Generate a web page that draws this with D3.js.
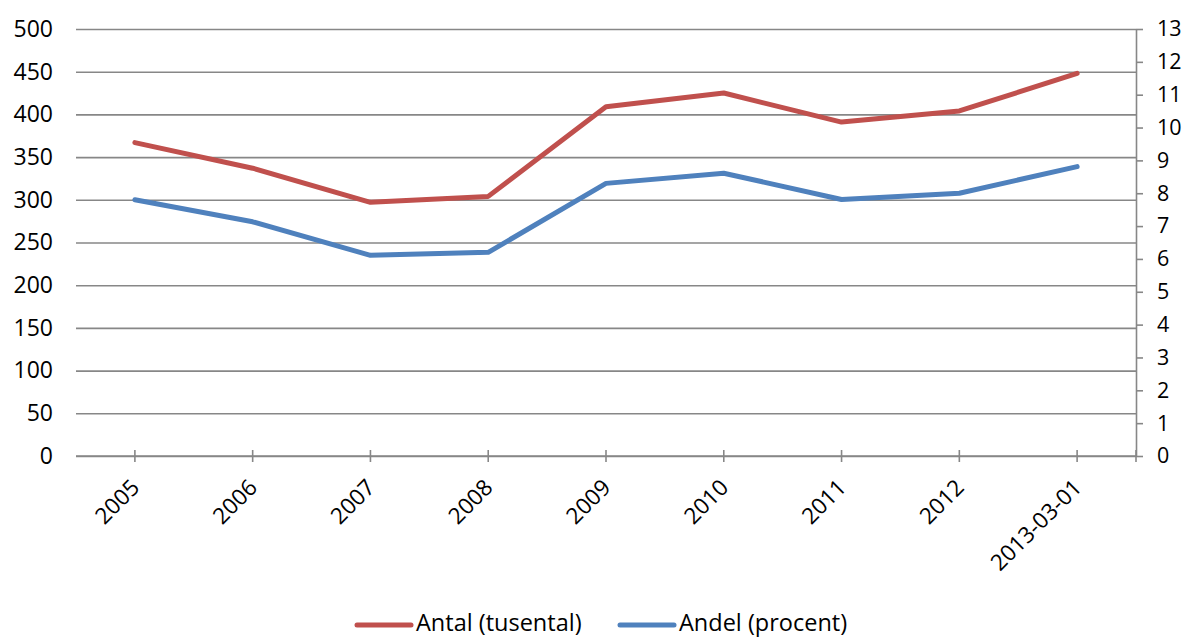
<!DOCTYPE html>
<html>
<head>
<meta charset="utf-8">
<script src="https://cdn.jsdelivr.net/npm/d3@7"></script>
<style>
  html, body { margin: 0; padding: 0; background: #fff; }
  svg { display: block; }
  text { font-family: "Open Sans", "Noto Sans", sans-serif; fill: #000; }
</style>
</head>
<body>
<svg id="chart" width="1188" height="637"></svg>
<script>
const categories = ["2005", "2006", "2007", "2008", "2009", "2010", "2011", "2012", "2013-03-01"];
const antal = [367, 337, 297, 304, 409, 425, 391, 404, 448];
const andel = [7.80, 7.13, 6.11, 6.20, 8.30, 8.61, 7.81, 8.00, 8.81];
const leftTicks = [0, 50, 100, 150, 200, 250, 300, 350, 400, 450, 500];
const rightTicks = [0, 1, 2, 3, 4, 5, 6, 7, 8, 9, 10, 11, 12, 13];
const seriesNames = ["Antal (tusental)", "Andel (procent)"];

const red = "#C0504D", blue = "#4F81BD", grid = "#878787";
const L = 76, R = 1136, T = 29, B = 456;

const svg = d3.select("#chart");
const x = d3.scaleBand().domain(categories).range([L, R]).paddingInner(0).paddingOuter(0);
const cx = d => x(d) + x.bandwidth() / 2;
const yL = d3.scaleLinear().domain([0, 500]).range([B, T]);
const yR = d3.scaleLinear().domain([0, 13]).range([B, T]);

// gridlines + left labels
const gl = svg.append("g").attr("transform", `translate(${L},0)`)
  .call(d3.axisLeft(yL).tickValues(leftTicks).tickSize(-(R - L)).tickPadding(23));
gl.select(".domain").remove();
gl.selectAll(".tick line").attr("stroke", grid).attr("stroke-width", 1.6);
gl.selectAll(".tick text").attr("font-size", 23).attr("font-family", "Open Sans").attr("fill", "#000");

// right axis
const gr = svg.append("g").attr("transform", `translate(${R},0)`)
  .call(d3.axisRight(yR).tickValues(rightTicks).tickSize(7).tickPadding(14));
gr.select(".domain").attr("stroke", grid).attr("stroke-width", 1.6).attr("d", `M0.5,${T}V${B}`);
gr.selectAll(".tick line").attr("stroke", grid).attr("stroke-width", 1.6);
gr.selectAll(".tick text").attr("font-size", 21.5).attr("font-family", "Open Sans").attr("fill", "#000");

// x axis
const gx = svg.append("g").attr("transform", `translate(0,${B})`);
gx.append("line").attr("x1", L).attr("x2", R).attr("y1", 0).attr("y2", 0)
  .attr("stroke", grid).attr("stroke-width", 1.6);
const xTickPos = categories.map(cx).concat([R]);
gx.selectAll("line.xt").data(xTickPos).join("line").attr("class", "xt")
  .attr("x1", d => d).attr("x2", d => d).attr("y1", -6).attr("y2", 6)
  .attr("stroke", grid).attr("stroke-width", 1.6);
gx.selectAll("text.xl").data(categories).join("text").attr("class", "xl")
  .attr("text-anchor", "end").attr("font-size", 22.5)
  .attr("transform", d => `translate(${cx(d) + 6},${33}) rotate(-45)`)
  .text(d => d);

// lines
const lineL = d3.line().x((d, i) => cx(categories[i])).y(d => yL(d));
const lineR = d3.line().x((d, i) => cx(categories[i])).y(d => yR(d));
svg.append("path").datum(antal).attr("d", lineL).attr("fill", "none")
  .attr("stroke", red).attr("stroke-width", 5).attr("stroke-linecap", "round").attr("stroke-linejoin", "round");
svg.append("path").datum(andel).attr("d", lineR).attr("fill", "none")
  .attr("stroke", blue).attr("stroke-width", 5).attr("stroke-linecap", "round").attr("stroke-linejoin", "round");

// legend
const legend = [
  { name: seriesNames[0], color: red, x: 357 },
  { name: seriesNames[1], color: blue, x: 620 }
];
const lg = svg.append("g");
legend.forEach(l => {
  lg.append("line").attr("x1", l.x).attr("x2", l.x + 54).attr("y1", 625).attr("y2", 625)
    .attr("stroke", l.color).attr("stroke-width", 5).attr("stroke-linecap", "round");
  lg.append("text").attr("x", l.x + 59).attr("y", 631).attr("font-size", 23.5).text(l.name);
});
</script>
</body>
</html>
